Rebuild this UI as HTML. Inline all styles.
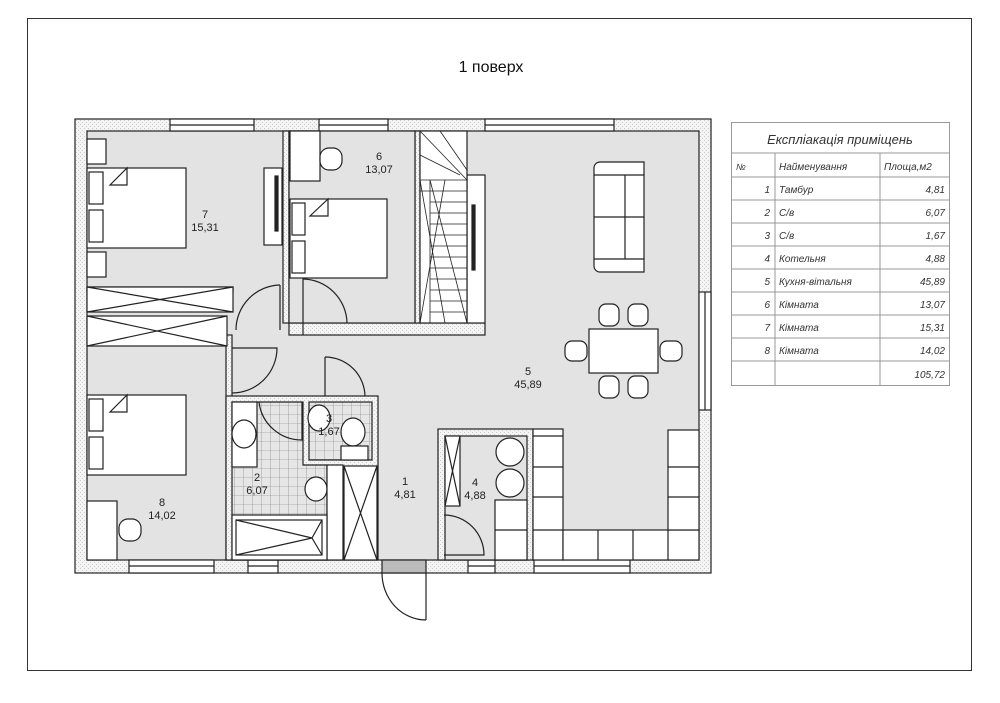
<!DOCTYPE html>
<html><head><meta charset="utf-8"><style>
html,body{margin:0;padding:0;background:#fff;}
svg{display:block;}
text{font-family:"Liberation Sans",sans-serif;}
</style></head><body>
<svg width="1000" height="703" viewBox="0 0 1000 703" xmlns="http://www.w3.org/2000/svg">
<defs>
<pattern id="tile" width="9" height="9" patternUnits="userSpaceOnUse">
<rect width="9" height="9" fill="#e6e6e6"/><path d="M0 0H9M0 0V9" stroke="#777" stroke-width="0.6" fill="none"/>
</pattern>
<pattern id="hatch" width="4" height="4" patternUnits="userSpaceOnUse">
<rect width="4" height="4" fill="#f4f4f4"/><rect width="1" height="1" fill="#ccc"/><rect x="2" y="2" width="1" height="1" fill="#ccc"/>
</pattern>
</defs>
<rect x="0" y="0" width="1000" height="703" fill="#fff"/>
<rect x="27.5" y="18.5" width="944" height="652" fill="none" stroke="#333" stroke-width="1"/>
<text x="491" y="72" font-size="16" text-anchor="middle" fill="#111">1 поверх</text>

<g stroke="#222" stroke-width="1.2" fill="none">
<!-- outer wall -->
<rect x="75" y="119" width="636" height="454" fill="url(#hatch)"/>
<rect x="87" y="131" width="612" height="429" fill="#e3e3e3"/>
<!-- windows top -->
<rect x="170" y="119" width="84" height="12" fill="#fff"/><line x1="170" y1="125" x2="254" y2="125"/>
<rect x="319" y="119" width="69" height="12" fill="#fff"/><line x1="319" y1="125" x2="388" y2="125"/>
<rect x="485" y="119" width="129" height="12" fill="#fff"/><line x1="485" y1="125" x2="614" y2="125"/>
<!-- right window -->
<rect x="699" y="292" width="12" height="118" fill="#fff"/><line x1="705" y1="292" x2="705" y2="410"/>
<!-- bottom windows -->
<rect x="129" y="560" width="85" height="13" fill="#fff"/><line x1="129" y1="566" x2="214" y2="566"/>
<rect x="248" y="560" width="30" height="13" fill="#fff"/><line x1="248" y1="566" x2="278" y2="566"/>
<rect x="468" y="560" width="27" height="13" fill="#fff"/><line x1="468" y1="566" x2="495" y2="566"/>
<rect x="534" y="560" width="96" height="13" fill="#fff"/><line x1="534" y1="566" x2="630" y2="566"/>
<!-- entrance door -->
<rect x="382" y="560" width="44" height="13" fill="#bbb"/>
<line x1="426" y1="573" x2="426" y2="620"/>
<path d="M382 573 A44 47 0 0 0 426 620"/>

<!-- partitions -->
<rect x="283" y="131" width="6" height="192" fill="url(#hatch)"/>
<rect x="289" y="323" width="196" height="12" fill="url(#hatch)"/>
<rect x="415" y="131" width="5" height="192" fill="url(#hatch)"/>
<rect x="467" y="175" width="18" height="148" fill="#fff"/>
<rect x="226" y="335" width="6" height="225" fill="url(#hatch)"/>
<rect x="87" y="287" width="146" height="5" fill="url(#hatch)"/>
<!-- room 6 floor -->
<rect x="289" y="131" width="126" height="192" fill="#e3e3e3"/>
<!-- stairs -->
<rect x="420" y="131" width="47" height="192" fill="#fff"/>
<g stroke-width="0.8">
<line x1="420" y1="180" x2="467" y2="180"/>
<line x1="420" y1="191" x2="467" y2="191"/><line x1="430" y1="202" x2="467" y2="202"/>
<line x1="430" y1="213" x2="467" y2="213"/><line x1="430" y1="224" x2="467" y2="224"/>
<line x1="430" y1="235" x2="467" y2="235"/><line x1="430" y1="246" x2="467" y2="246"/>
<line x1="430" y1="257" x2="467" y2="257"/><line x1="430" y1="268" x2="467" y2="268"/>
<line x1="430" y1="279" x2="467" y2="279"/><line x1="430" y1="290" x2="467" y2="290"/>
<line x1="430" y1="301" x2="467" y2="301"/><line x1="430" y1="312" x2="467" y2="312"/>
<line x1="420" y1="131" x2="467" y2="180"/><line x1="440" y1="131" x2="467" y2="170"/>
<line x1="420" y1="155" x2="460" y2="175"/>
<line x1="430" y1="180" x2="467" y2="323"/><line x1="430" y1="180" x2="430" y2="323"/>
<line x1="420" y1="180" x2="445" y2="323"/><line x1="445" y1="180" x2="420" y2="323"/>
<line x1="467" y1="131" x2="467" y2="175"/>
</g>
<rect x="472" y="205" width="3" height="65" fill="#222"/>

<!-- room 7 furniture -->
<rect x="87" y="139" width="19" height="25" fill="#fff"/>
<rect x="87" y="168" width="99" height="80" fill="#fff"/>
<rect x="89" y="172" width="14" height="32" fill="#fff"/><rect x="89" y="210" width="14" height="32" fill="#fff"/>
<path d="M110 185 L127 168 L127 185 Z" fill="#fff"/>
<rect x="87" y="252" width="19" height="25" fill="#fff"/>
<rect x="264" y="168" width="18" height="77" fill="#fff"/>
<rect x="275" y="176" width="3" height="55" fill="#222"/>
<rect x="87" y="287" width="146" height="25" fill="#fff"/>
<path d="M87 287 L233 312 M87 312 L233 287"/>
<rect x="87" y="316" width="140" height="30" fill="#fff"/>
<path d="M87 316 L227 346 M87 346 L227 316"/>
<!-- door room7 -->
<line x1="280" y1="285" x2="280" y2="330"/><path d="M280 285 A45 45 0 0 0 236 330"/>
<!-- room 6 furniture -->
<rect x="290" y="131" width="30" height="50" fill="#fff"/>
<rect x="320" y="148" width="22" height="22" rx="9" fill="#fff"/>
<rect x="290" y="199" width="97" height="79" fill="#fff"/>
<rect x="292" y="203" width="13" height="32" fill="#fff"/><rect x="292" y="241" width="13" height="32" fill="#fff"/>
<path d="M310 216 L328 199 L328 216 Z" fill="#fff"/>
<line x1="303" y1="278" x2="303" y2="335"/><path d="M303 279 A45 45 0 0 1 347 323"/>
<!-- corridor doors -->
<path d="M232 393 A45 45 0 0 0 277 348 L232 348"/>
<line x1="325" y1="357" x2="325" y2="402"/><path d="M325 357 A40 40 0 0 1 365 397"/>

<!-- room 8 furniture -->
<rect x="87" y="395" width="99" height="80" fill="#fff"/>
<rect x="89" y="399" width="14" height="32" fill="#fff"/><rect x="89" y="437" width="14" height="32" fill="#fff"/>
<path d="M110 412 L127 395 L127 412 Z" fill="#fff"/>
<rect x="87" y="501" width="30" height="59" fill="#fff"/>
<rect x="119" y="519" width="22" height="22" rx="9" fill="#fff"/>

<!-- bathroom 2 & 3 -->
<rect x="226" y="396" width="152" height="164" fill="url(#hatch)"/>
<path d="M232 402 H303 V465 H327 V560 H232 Z" fill="url(#tile)"/>
<rect x="309" y="402" width="63" height="58" fill="url(#tile)"/>
<rect x="232" y="402" width="25" height="65" fill="#fff"/>
<ellipse cx="244" cy="434" rx="12" ry="14" fill="#fff"/>
<path d="M259 402 A43 43 0 0 0 302 440 L302 402" />
<ellipse cx="316" cy="489" rx="11" ry="12" fill="#fff"/>
<rect x="327" y="465" width="16" height="95" fill="#fff"/>
<rect x="232" y="515" width="95" height="45" fill="#fff"/>
<rect x="236" y="520" width="86" height="35" fill="#fff"/>
<path d="M236 520 L312 538 L236 555 M312 538 L322 520 M312 538 L322 555"/>
<ellipse cx="319" cy="418" rx="11" ry="13" fill="#fff"/>
<ellipse cx="353" cy="432" rx="12" ry="14" fill="#fff"/>
<rect x="341" y="446" width="27" height="14" fill="#fff"/>
<rect x="344" y="466" width="33" height="94" fill="#fff"/>
<path d="M344 466 L377 560 M377 466 L344 560"/>

<!-- boiler room 4 -->
<rect x="438" y="429" width="95" height="131" fill="url(#hatch)"/>
<rect x="445" y="436" width="82" height="124" fill="#e3e3e3"/>
<rect x="445" y="436" width="15" height="70" fill="#fff"/>
<path d="M445 436 L460 506 M460 436 L445 506"/>
<circle cx="510" cy="452" r="14" fill="#fff"/><circle cx="510" cy="483" r="14" fill="#fff"/>
<rect x="495" y="500" width="32" height="60" fill="#fff"/>
<line x1="495" y1="530" x2="527" y2="530"/>
<path d="M444 515 A40 40 0 0 1 484 555 L444 555"/>
<!-- kitchen counters -->
<rect x="533" y="429" width="30" height="131" fill="#fff"/>
<line x1="533" y1="436" x2="563" y2="436"/><line x1="533" y1="467" x2="563" y2="467"/><line x1="533" y1="497" x2="563" y2="497"/><line x1="533" y1="530" x2="563" y2="530"/>
<rect x="563" y="530" width="136" height="30" fill="#fff"/>
<line x1="598" y1="530" x2="598" y2="560"/><line x1="633" y1="530" x2="633" y2="560"/><line x1="668" y1="530" x2="668" y2="560"/>
<rect x="668" y="430" width="31" height="100" fill="#fff"/>
<line x1="668" y1="467" x2="699" y2="467"/><line x1="668" y1="497" x2="699" y2="497"/>
<!-- sofa -->
<path d="M600 162 H644 V272 H600 A6 6 0 0 1 594 266 V168 A6 6 0 0 1 600 162 Z" fill="#fff"/>
<line x1="594" y1="175" x2="644" y2="175"/><line x1="594" y1="259" x2="644" y2="259"/>
<line x1="594" y1="217" x2="644" y2="217"/><line x1="625" y1="175" x2="625" y2="259"/>
<!-- dining -->
<rect x="589" y="329" width="69" height="44" fill="#fff"/>
<rect x="599" y="304" width="20" height="22" rx="7" fill="#fff"/><rect x="628" y="304" width="20" height="22" rx="7" fill="#fff"/>
<rect x="599" y="376" width="20" height="22" rx="7" fill="#fff"/><rect x="628" y="376" width="20" height="22" rx="7" fill="#fff"/>
<rect x="565" y="341" width="22" height="20" rx="7" fill="#fff"/><rect x="660" y="341" width="22" height="20" rx="7" fill="#fff"/>
</g>

<g font-size="11" fill="#222" text-anchor="middle">
<text x="205" y="218">7</text><text x="205" y="231">15,31</text>
<text x="379" y="160">6</text><text x="379" y="173">13,07</text>
<text x="528" y="375">5</text><text x="528" y="388">45,89</text>
<text x="257" y="481">2</text><text x="257" y="494">6,07</text>
<text x="329" y="422">3</text><text x="329" y="435">1,67</text>
<text x="405" y="485">1</text><text x="405" y="498">4,81</text>
<text x="475" y="486">4</text><text x="475" y="499">4,88</text>
<text x="162" y="506">8</text><text x="162" y="519">14,02</text>
</g>

<!-- table -->
<g stroke="#999" stroke-width="1" fill="none">
<rect x="731.5" y="122.5" width="218" height="263" fill="#fff"/>
<line x1="731" y1="153" x2="950" y2="153"/>
<line x1="731" y1="177" x2="950" y2="177"/>
<line x1="731" y1="200" x2="950" y2="200"/>
<line x1="731" y1="223" x2="950" y2="223"/>
<line x1="731" y1="246" x2="950" y2="246"/>
<line x1="731" y1="269" x2="950" y2="269"/>
<line x1="731" y1="292" x2="950" y2="292"/>
<line x1="731" y1="315" x2="950" y2="315"/>
<line x1="731" y1="338" x2="950" y2="338"/>
<line x1="731" y1="361" x2="950" y2="361"/>
<line x1="775" y1="153" x2="775" y2="385"/>
<line x1="880" y1="153" x2="880" y2="385"/>
</g>
<g fill="#333" font-style="italic" font-size="10">
<text x="840" y="144" font-size="13" text-anchor="middle">Експліакація приміщень</text>
<text x="736" y="170" font-size="9">№</text>
<text x="779" y="170">Найменування</text>
<text x="884" y="170">Площа,м2</text>
<g text-anchor="end">
<text x="770" y="193">1</text><text x="770" y="216">2</text><text x="770" y="239">3</text><text x="770" y="262">4</text>
<text x="770" y="285">5</text><text x="770" y="308">6</text><text x="770" y="331">7</text><text x="770" y="354">8</text>
<text x="945" y="193">4,81</text><text x="945" y="216">6,07</text><text x="945" y="239">1,67</text><text x="945" y="262">4,88</text>
<text x="945" y="285">45,89</text><text x="945" y="308">13,07</text><text x="945" y="331">15,31</text><text x="945" y="354">14,02</text>
<text x="945" y="378">105,72</text>
</g>
<text x="779" y="193">Тамбур</text><text x="779" y="216">С/в</text><text x="779" y="239">С/в</text>
<text x="779" y="262">Котельня</text><text x="779" y="285">Кухня-вітальня</text>
<text x="779" y="308">Кімната</text><text x="779" y="331">Кімната</text><text x="779" y="354">Кімната</text>
</g>
</svg>
</body></html>
